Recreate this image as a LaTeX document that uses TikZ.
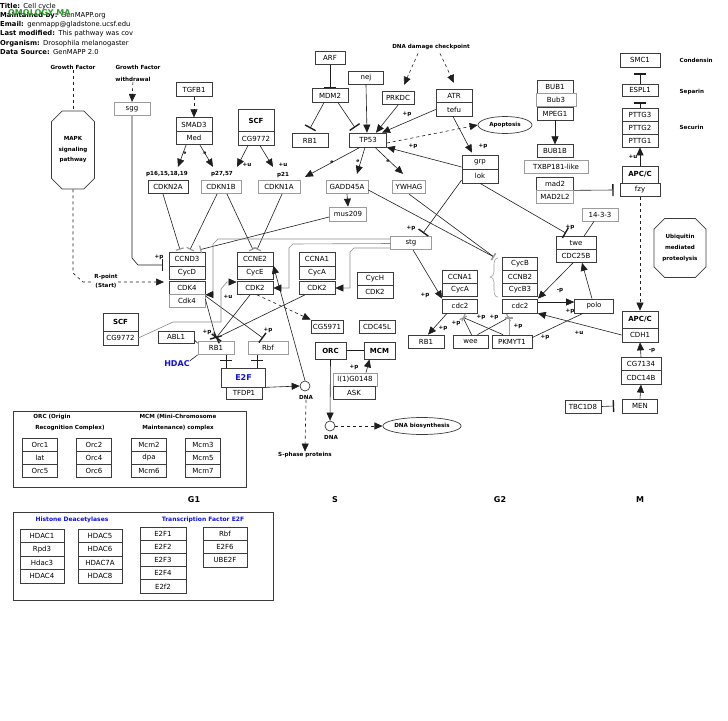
\documentclass[tikz,border=0pt]{standalone}
\usepackage{fontspec}
\setmainfont{DejaVu Sans}
\usetikzlibrary{arrows.meta,shapes.geometric,shapes.misc}
\definecolor{boxline}{HTML}{3C3C3C}
\definecolor{boxlight}{HTML}{9C9C9C}
\definecolor{wireline}{HTML}{1E1E1E}
\definecolor{wiregray}{HTML}{8A8A8A}
\definecolor{labelblue}{HTML}{1010E8}
\definecolor{homgreen}{HTML}{2E9A2E}
\newcommand{\genefont}{\fontsize{7}{8}\selectfont}
\newcommand{\tagfont}{\fontsize{5.6}{6.5}\selectfont\bfseries}
\tikzset{
  gene/.style={draw=boxline, fill=white, line width=0.7pt, minimum width=36pt,
               minimum height=13.5pt, inner sep=0pt, font=\genefont},
  genelt/.style={gene, draw=boxlight},
  cplx/.style={gene, minimum height=17pt, font=\genefont\bfseries},
  tag/.style={font=\tagfont, inner sep=0.5pt},
  etag/.style={font=\fontsize{4.5}{5}\selectfont\bfseries, inner sep=0pt},
  hdr/.style={font=\fontsize{6.8}{7.5}\selectfont, anchor=west, inner sep=0pt},
  phase/.style={font=\fontsize{8}{9}\selectfont\bfseries},
  bluetag/.style={tag, font=\fontsize{6}{7}\selectfont\bfseries, text=labelblue},
  pathbox/.style={chamfered rectangle, chamfered rectangle xsep=7pt, draw=boxline,
                  line width=0.7pt, fill=white, font=\tagfont, align=center, inner sep=0pt},
  dnadot/.style={circle, draw=boxline, line width=0.7pt, minimum size=10pt, inner sep=0pt},
  oval/.style={ellipse, draw=boxline, line width=0.7pt, inner sep=0pt, font=\tagfont},
  wire/.style={line width=0.6pt, draw=wireline},
  act/.style={wire, -{Triangle[length=8pt,width=7pt,color=wireline]}},
  inh/.style={wire, -{Bar[width=12pt,line width=1.4pt]}},
  inhsoft/.style={wire, -{Bar[width=8pt,line width=1.2pt,color=boxlight]}},
}

\begin{document}
\begin{tikzpicture}[x=1pt, y=-1pt]
    \useasboundingbox (0,0) rectangle (728,720);
    % header
    \node[hdr] (ttl) at (0,7) {\textbf{Title:}\enspace Cell cycle};
    \node[hdr] (mnt) at (0,16) {\textbf{Maintained by:}\enspace GenMAPP.org};
    \node[hdr, text=homgreen, font=\fontsize{8}{9}\selectfont\bfseries] (hom) at (8,13) {OMOLOGY MA};
    \node[hdr] (eml) at (0,25) {\textbf{Email:}\enspace genmapp@gladstone.ucsf.edu};
    \node[hdr] (lmd) at (0,34) {\textbf{Last modified:}\enspace This pathway was cov};
    \node[hdr] (org) at (0,44) {\textbf{Organism:}\enspace Drosophila melanogaster};
    \node[hdr] (src) at (0,52) {\textbf{Data Source:}\enspace GenMAPP 2.0};

    % G1 entry
    \node[tag] (gfa) at (73,67) {Growth Factor};
    \node[tag] (gfb) at (138,67) {Growth Factor};
    \node[tag] (gfw) at (133,79) {withdrawal};
    \node[pathbox, minimum width=40pt, minimum height=78pt] (mapk) at (73,150) {MAPK\\[4pt]signaling\\[4pt]pathway};
    \node[genelt] (sgg) at (132,109) {sgg};
    \node[gene] (tgfb1) at (194,89.5) {TGFB1};
    \node[gene] (smad3) at (194,124.5) {SMAD3};
    \node[gene] (med) at (194,138) {Med};
    \node[cplx, minimum height=23pt] (scfa) at (256,120.5) {SCF};
    \node[gene] (cg9772a) at (256,138.5) {CG9772};
    \node[tag] (lp16) at (167,174) {p16,15,18,19};
    \node[tag] (lp27) at (222,174) {p27,57};
    \node[tag] (lp21) at (283,175) {p21};
    \node[gene, minimum width=40pt] (cdkn2a) at (168,187) {CDKN2A};
    \node[genelt, minimum width=40pt] (cdkn1b) at (221,187) {CDKN1B};
    \node[genelt, minimum width=42pt] (cdkn1a) at (279,187) {CDKN1A};

    % p53 branch
    \node[gene, minimum width=30pt] (arf) at (330,58) {ARF};
    \node[gene] (mdm2) at (330,95.5) {MDM2};
    \node[gene] (rb1a) at (310,140.5) {RB1};
    \node[gene, minimum width=35pt] (nej) at (366,78) {nej};
    \node[gene, minimum width=37pt, minimum height=14pt] (tp53) at (368,140) {TP53};
    \node[gene, minimum width=32pt] (prkdc) at (398,98) {PRKDC};
    \node[tag] (dmg) at (431,47) {DNA damage checkpoint};
    \node[gene] (atr) at (454,96) {ATR};
    \node[gene] (tefu) at (454,109.5) {tefu};
    \node[oval, minimum width=54pt, minimum height=17pt] (apop) at (505,125) {Apoptosis};
    \node[gene, minimum height=14pt] (grp) at (480,162) {grp};
    \node[gene, minimum height=14pt] (lok) at (480,176) {lok};
    \node[genelt, minimum width=42pt] (gadd45a) at (347,187) {GADD45A};
    \node[genelt, minimum width=33pt] (ywhag) at (409,187) {YWHAG};
    \node[genelt, minimum width=37pt, minimum height=14pt] (mus209) at (348,214) {mus209};

    % M checkpoint
    \node[gene, minimum width=40pt, minimum height=14pt] (smc1) at (640,60) {SMC1};
    \node[gene, minimum height=12pt] (espl1) at (640,90) {ESPL1};
    \node[gene, minimum height=13pt] (pttg3) at (640,114.5) {PTTG3};
    \node[gene, minimum height=13pt] (pttg2) at (640,127.5) {PTTG2};
    \node[gene, minimum height=13pt] (pttg1) at (640,140.5) {PTTG1};
    \node[cplx] (apca) at (640,174.5) {APC/C};
    \node[gene, minimum width=40pt] (fzy) at (640,190) {fzy};
    \node[tag, anchor=west] (cond) at (679,60) {Condensin};
    \node[tag, anchor=west] (sepn) at (679,92) {Separin};
    \node[tag, anchor=west] (secn) at (679,127) {Securin};
    \node[gene, minimum height=12.5pt] (bub1) at (555,87) {BUB1};
    \node[genelt, minimum width=40pt, minimum height=13pt] (bub3) at (556,100) {Bub3};
    \node[gene, minimum height=13pt] (mpeg1) at (555,113.5) {MPEG1};
    \node[gene, minimum height=12.5pt] (bub1b) at (555,151) {BUB1B};
    \node[genelt, minimum width=64pt, minimum height=12.5pt] (txbp) at (556,167) {TXBP181-like};
    \node[gene, minimum width=37pt, minimum height=13pt] (mad2) at (555,183.5) {mad2};
    \node[genelt, minimum width=37pt, minimum height=13pt] (mad2l2) at (555,196.5) {MAD2L2};
    \node[pathbox, minimum width=52pt, minimum height=59pt] (ubq) at (680,248) {Ubiquitin\\[4.5pt]mediated\\[4.5pt]proteolysis};

    % G2/M
    \node[genelt, minimum height=13pt] (p1433) at (600,214.5) {14-3-3};
    \node[gene, minimum width=40pt, minimum height=13pt] (twe) at (576,243) {twe};
    \node[gene, minimum width=40pt, minimum height=13pt] (cdc25b) at (576,256) {CDC25B};
    \node[genelt, minimum width=41pt, minimum height=13pt] (stg) at (411,243) {stg};
    \node[gene, minimum width=35pt, minimum height=13pt] (cycb) at (520,263.5) {CycB};
    \node[gene, minimum width=35pt, minimum height=13pt] (ccnb2) at (520,276.5) {CCNB2};
    \node[gene, minimum width=35pt, minimum height=13pt] (cycb3) at (520,289.5) {CycB3};
    \node[gene, minimum width=35pt, minimum height=14pt] (cdc2b) at (520,306) {cdc2};
    \node[gene, minimum width=35pt, minimum height=13pt] (ccna1b) at (460,276.5) {CCNA1};
    \node[gene, minimum width=35pt, minimum height=13pt] (cycab) at (460,289.5) {CycA};
    \node[gene, minimum width=35pt, minimum height=14pt] (cdc2a) at (460,306) {cdc2};
    \node[gene, minimum width=39pt, minimum height=14pt] (polo) at (594,306) {polo};
    \node[gene, minimum height=13pt] (rb1c) at (426,341.5) {RB1};
    \node[gene, minimum width=35pt, minimum height=13pt] (wee) at (470.5,341.5) {wee};
    \node[gene, minimum width=40pt, minimum height=13pt] (pkmyt1) at (512,341.5) {PKMYT1};
    \node[cplx] (apcb) at (640,319.5) {APC/C};
    \node[gene, minimum height=14pt] (cdh1) at (640,335) {CDH1};
    \node[gene, minimum width=40pt] (cg7134) at (641,364) {CG7134};
    \node[gene, minimum width=40pt] (cdc14b) at (641,377.5) {CDC14B};
    \node[gene, minimum height=13pt] (tbc1d8) at (583,406.5) {TBC1D8};
    \node[gene, minimum width=35pt, minimum height=14pt] (men) at (640,406) {MEN};

    % G1/S cyclins
    \node[gene, minimum height=14pt] (ccnd3) at (187,259) {CCND3};
    \node[gene, minimum height=13pt] (cycd) at (187,272.5) {CycD};
    \node[gene, minimum height=13pt] (cdk4) at (187,288) {CDK4};
    \node[genelt, minimum height=13pt] (cdk4b) at (187,301) {Cdk4};
    \node[gene, minimum height=14pt] (ccne2) at (255,259) {CCNE2};
    \node[gene, minimum height=13pt] (cyce) at (255,272.5) {CycE};
    \node[gene, minimum height=13pt] (cdk2a) at (255,288) {CDK2};
    \node[gene, minimum height=14pt] (ccna1a) at (317,259) {CCNA1};
    \node[gene, minimum height=13pt] (cycaa) at (317,272.5) {CycA};
    \node[gene, minimum height=13pt] (cdk2b) at (317,288) {CDK2};
    \node[gene, minimum height=13pt] (cych) at (375,279) {CycH};
    \node[gene, minimum height=13pt] (cdk2c) at (375,292) {CDK2};

    % E2F and replication
    \node[cplx, minimum width=35pt, minimum height=18pt] (scfb) at (120.5,322) {SCF};
    \node[gene, minimum width=35pt, minimum height=14pt] (cg9772b) at (120.5,338) {CG9772};
    \node[gene, minimum height=12pt] (abl1) at (176,337) {ABL1};
    \node[font=\fontsize{8}{9}\selectfont\bfseries, text=labelblue, inner sep=0pt] (hdac) at (177,364) {HDAC};
    \node[genelt, minimum height=13pt] (rb1b) at (216,348) {RB1};
    \node[genelt, minimum width=40pt, minimum height=13pt] (rbf) at (268,348) {Rbf};
    \node[gene, minimum width=44pt, minimum height=19pt, font=\fontsize{8}{9}\selectfont\bfseries, text=labelblue] (e2f) at (243.5,377.5) {E2F};
    \node[gene, minimum height=12pt] (tfdp1) at (244,393) {TFDP1};
    \node[dnadot] (dnaa) at (305,386) {};
    \node[tag] (dnaal) at (306,397) {DNA};
    \node[tag] (sphase) at (305,455) {S-phase proteins};
    \node[gene, minimum width=32pt, minimum height=13pt] (cg5971) at (327,326.5) {CG5971};
    \node[cplx, minimum width=31pt] (orc) at (330.5,350.5) {ORC};
    \node[gene, minimum height=13pt] (cdc45l) at (377,326.5) {CDC45L};
    \node[cplx, minimum width=31pt] (mcm) at (379.5,350.5) {MCM};
    \node[genelt, minimum width=44pt, minimum height=13pt] (l1g) at (355,379.5) {l(1)G0148};
    \node[gene, minimum width=42pt, minimum height=13pt] (ask) at (354,392.5) {ASK};
    \node[dnadot] (dnab) at (330,426) {};
    \node[tag] (dnabl) at (331,437) {DNA};
    \node[oval, minimum width=76pt, minimum height=17pt] (dnabio) at (422,426) {DNA biosynthesis};

    % phases
    \node[phase] (phg1) at (194,500) {G1};
    \node[phase] (phs) at (335,500) {S};
    \node[phase] (phg2) at (500,500) {G2};
    \node[phase] (phm) at (640,500) {M};

    % small labels
    \node[tag] (lsgg) at (159,257) {+p};
    \node[etag] (le1) at (185,153) {e};
    \node[etag] (le2) at (205,153) {e};
    \node[tag] (lu1) at (247,165) {+u};
    \node[tag] (lu2) at (283,165) {+u};
    \node[etag] (le3) at (332,162) {e};
    \node[etag] (le4) at (358,161) {e};
    \node[etag] (le5) at (388,161) {e};
    \node[tag] (ltefu) at (407,114) {+p};
    \node[tag] (lgrp) at (483,146) {+p};
    \node[tag] (ltp) at (413,146) {+p};
    \node[tag] (lstg) at (411,228) {+p};
    \node[tag] (ltwe) at (570,227) {+p};
    \node[tag] (lstgc) at (425,295) {+p};
    \node[tag] (lcdcrb) at (443,328) {+p};
    \node[tag] (lwa) at (456,323) {+p};
    \node[tag] (lwb) at (481,317) {+p};
    \node[tag] (lwc) at (494,317) {+p};
    \node[tag] (lwd) at (518,326) {+p};
    \node[tag] (lcdc25) at (560,291) {-p};
    \node[tag] (lpolo) at (570,311) {+p};
    \node[tag] (lpk) at (545,337) {+p};
    \node[tag] (lcdh) at (579,333) {+u};
    \node[tag] (lcg71) at (652,351) {-p};
    \node[tag] (lapc) at (633,157) {+u};
    \node[tag] (lcdk) at (228,297) {+u};
    \node[tag] (lrba) at (207,332) {+p};
    \node[tag] (lrbb) at (268,330) {+p};
    \node[tag] (ll1g) at (354,367) {+p};

    % connectors, G1
    \coordinate (rpt) at (164,282);
    \coordinate (sggend) at (163,265);
    \draw[wire, dashed] (gfa) -- (mapk);
    \draw[act, dashed] (mapk.south) -- (73,273) -- (83,282) -- (rpt);
    \node[tag, fill=white, align=center] (rplb) at (106,281.5) {R-point\\[2.5pt](Start)};
    \draw[act, dashed] (gfw) -- (sgg.north);
    \draw[inh] (sgg.south) -- (132,258) -- (138,265) -- (sggend);
    \draw[act, dashed] (tgfb1.south) -- (smad3.north);
    \draw[act] ([xshift=-8pt]med.south) -- ([xshift=10pt,yshift=13pt]cdkn2a.north);
    \draw[act] ([xshift=6pt]med.south) -- ([xshift=-8pt,yshift=13pt]cdkn1b.north);
    \draw[act] ([xshift=-8pt]cg9772a.south) -- ([xshift=16pt,yshift=13pt]cdkn1b.north);
    \draw[act] ([xshift=4pt]cg9772a.south) -- ([xshift=-6pt,yshift=13pt]cdkn1a.north);
    \draw[inhsoft] ([xshift=-5pt]cdkn2a.south) -- ([xshift=-7pt,yshift=2pt]ccnd3.north);
    \draw[inhsoft] ([xshift=-4pt]cdkn1b.south) -- ([xshift=3pt,yshift=2pt]ccnd3.north);
    \draw[inhsoft] ([yshift=-3pt]mus209.west) -- ([xshift=13pt,yshift=2pt]ccnd3.north);
    \draw[inhsoft] ([xshift=6pt]cdkn1b.south) -- ([xshift=-2pt,yshift=2pt]ccne2.north);
    \draw[inhsoft] ([xshift=3pt]cdkn1a.south) -- ([xshift=2pt,yshift=2pt]ccne2.north);

    % p53
    \draw[inh] (arf.south) -- (mdm2.north);
    \draw[inh] ([xshift=-6pt]mdm2.south) -- ([yshift=5pt]rb1a.north);
    \draw[inh] ([xshift=8pt]mdm2.south) -- ([xshift=-13pt,yshift=5pt]tp53.north);
    \draw[act] (nej.south) -- ([xshift=-1pt]tp53.north);
    \draw[act] (prkdc.south) -- ([xshift=8pt]tp53.north);
    \draw[act] (tefu.west) -- ([xshift=14pt]tp53.north);
    \draw[act, dashed] ([xshift=-13pt,yshift=-3pt]dmg.south) -- ([xshift=6pt,yshift=6pt]prkdc.north);
    \draw[act, dashed] ([xshift=9pt,yshift=-3pt]dmg.south) -- ([yshift=6pt]atr.north);
    \draw[act, dashed] ([yshift=-3pt]tp53.east) -- (apop.west);
    \draw[act] ([xshift=-1pt]tefu.south) -- ([xshift=-8pt,yshift=2pt]grp.north);
    \draw[act] ([yshift=-5pt]grp.west) -- (tp53.south east);
    \draw[act] ([xshift=-8pt]tp53.south) -- ([xshift=26pt,yshift=3pt]cdkn1a.north);
    \draw[act] ([xshift=-3pt]tp53.south) -- ([xshift=10pt,yshift=6pt]gadd45a.north);
    \draw[act] ([xshift=7pt]tp53.south) -- ([xshift=-6pt,yshift=6pt]ywhag.north);
    \draw[act] (gadd45a.south) -- (mus209.north);

    % stg and cdc2
    \draw[act, draw=wiregray] ([yshift=4pt]stg.west) -- (218,239) -- (213,244) -- (213,294.5) -- (cdk4.south east);
    \draw[act, draw=wiregray] ([yshift=-0.5pt]stg.west) -- (293,244) -- (289,248) -- (289,288) -- (cdk2a.east);
    \draw[act, draw=wiregray] ([yshift=-5pt]stg.west) -- (354,248) -- (350,252) -- (350,288) -- (cdk2b.east);
    \draw[act] ([xshift=2pt]stg.south) -- (cdc2a.north west);
    \draw[inh] ([yshift=-4pt]lok.west) -- ([xshift=12pt,yshift=3pt]stg.north);
    \draw[inh] (lok.south) -- ([xshift=-10pt,yshift=3pt]twe.north);
    \draw[wire] ([xshift=-6pt]p1433.south) -- ([xshift=8pt]twe.north);
    \draw[act] ([xshift=-2pt]polo.north) -- ([xshift=6pt]cdc25b.south);
    \draw[act] ([xshift=-3pt]cdc25b.south) -- (cdc2b.north east);
    \draw[act] ([yshift=4pt]cdc2b.east) -- ([yshift=4pt]polo.west);
    \draw[wire] ([xshift=-11pt]polo.south) -- ([yshift=4pt]pkmyt1.east);
    \draw[act] (cdh1.west) -- (cdc2b.south east);
    \draw[act] ([xshift=-13pt]cdc2a.south) -- ([xshift=2pt]rb1c.north);
    \draw[inhsoft] ([xshift=1pt]wee.north) -- ([xshift=3pt,yshift=-4pt]cdc2a.south);
    \draw[inhsoft] ([xshift=7pt]wee.north) -- ([xshift=-11pt,yshift=-4pt]cdc2b.south);
    \draw[inhsoft] ([xshift=-9pt]pkmyt1.north) -- ([xshift=3pt,yshift=-4pt]cdc2a.south);
    \draw[inhsoft, draw=boxlight] ([xshift=-3pt]pkmyt1.north) -- ([xshift=-11pt,yshift=-4pt]cdc2b.south);
    \coordinate (cycbrace) at (494,257);
    \draw[inhsoft] ([yshift=-3pt]gadd45a.east) -- (cycbrace);
    \draw[inhsoft] (ywhag.south) -- (cycbrace);
    \draw[draw=boxlight, line width=0.6pt] (498,258) .. controls (495,258) and (494,261) .. (494,265) -- (494,272)
        .. controls (494,275) and (492,277) .. (490,277) .. controls (492,277) and (494,279) .. (494,282)
        -- (494,290) .. controls (494,294) and (495,297) .. (498,297);

    % M
    \draw[act] (cg7134.north) -- (cdh1.south);
    \draw[act] (men.north) -- (cdc14b.south);
    \draw[inh] (tbc1d8.east) -- ([xshift=-8pt]men.west);
    \draw[inh] (mad2.south east) -- ([xshift=-6pt]fzy.west);
    \draw[act, dashed] (fzy.south) -- (apcb.north);
    \draw[act] (apca.north) -- (pttg1.south);
    \draw[inh] (pttg3.north) -- ([yshift=-6pt]espl1.south);
    \draw[inh] (espl1.north) -- ([yshift=-6pt]smc1.south);
    \draw[act] (mpeg1.south) -- (bub1b.north);

    % Rb / E2F
    \draw[inh] ([yshift=2pt]cdk4b.east) -- ([yshift=3pt]rb1b.north);
    \draw[inh] ([yshift=-1pt]cdk4.south east) -- ([xshift=-5pt,yshift=3pt]rbf.north);
    \draw[inh] ([xshift=-5pt]cdk2a.south) -- ([yshift=3pt]rb1b.north);
    \draw[inh] ([xshift=-12pt]cdk2b.south) -- ([yshift=3pt]rb1b.north);
    \draw[act, draw=wiregray] (cg9772b.east) -- (173,322) -- (221,322) -- (221,289) -- (227,282) -- ([yshift=6pt]cdk2a.west);
    \draw[act, dashed] ([xshift=2pt]cdk2a.south) -- (cg5971.north west);
    \draw[act] (dnaa.north) -- (cyce.north east);
    \draw[act] (e2f.south east) -- (dnaa.west);
    \draw[act, dashed] (dnaal.south) -- (sphase.north);
    \draw[inh] ([xshift=10pt]rb1b.south) -- ([xshift=-17.5pt,yshift=6.5pt]e2f.north);
    \draw[wire] ([xshift=-17.5pt,yshift=6.5pt]e2f.north) -- ([xshift=-17.5pt]e2f.north);
    \draw[inh] ([xshift=-11pt]rbf.south) -- ([xshift=13.5pt,yshift=6.5pt]e2f.north);
    \draw[wire] ([xshift=13.5pt,yshift=6.5pt]e2f.north) -- ([xshift=13.5pt]e2f.north);
    \draw[wire] ([yshift=-3pt]abl1.east) -- ([yshift=-2pt]rb1b.north west);
    \draw[wire] (hdac.north east) -- (rb1b.south west);
    \draw[wire] (orc.east) -- (mcm.west);
    \draw[act] (orc.south) -- (dnab.north);
    \draw[act] ([xshift=11pt]l1g.north) -- ([xshift=-10pt]mcm.south);
    \draw[act, dashed] (dnab.east) -- (dnabio.west);

    % legend: ORC / MCM
    \draw[draw=boxline, line width=0.7pt] (13,411) rectangle (246,487);
    \node[tag] (orct1) at (52,417) {ORC (Origin};
    \node[tag] (orct2) at (70,428) {Recognition Complex)};
    \node[tag] (mcmt1) at (178,417) {MCM (Mini-Chromosome};
    \node[tag] (mcmt2) at (178,428) {Maintenance) complex};
    \node[gene, minimum width=35pt, minimum height=13pt] (orc1) at (40,444.5) {Orc1};
    \node[gene, minimum width=35pt, minimum height=13pt] (lat) at (40,457.5) {lat};
    \node[gene, minimum width=35pt, minimum height=13pt] (orc5) at (40,470.5) {Orc5};
    \node[gene, minimum width=35pt, minimum height=13pt] (orc2) at (94,444.5) {Orc2};
    \node[gene, minimum width=35pt, minimum height=13pt] (orc4) at (94,457.5) {Orc4};
    \node[gene, minimum width=35pt, minimum height=13pt] (orc6) at (94,470.5) {Orc6};
    \node[gene, minimum width=35pt, minimum height=13pt] (mcm2) at (149,444.5) {Mcm2};
    \node[gene, minimum width=35pt, minimum height=13pt] (dpa) at (149,457.5) {dpa};
    \node[gene, minimum width=35pt, minimum height=13pt] (mcm6) at (149,470.5) {Mcm6};
    \node[gene, minimum width=35pt, minimum height=13pt] (mcm3) at (203,444.5) {Mcm3};
    \node[gene, minimum width=35pt, minimum height=13pt] (mcm5) at (203,457.5) {Mcm5};
    \node[gene, minimum width=35pt, minimum height=13pt] (mcm7) at (203,470.5) {Mcm7};

    % legend: HDAC / E2F
    \draw[draw=boxline, line width=0.7pt] (13,512) rectangle (273,600);
    \node[bluetag] (hdact) at (72,520) {Histone Deacetylases};
    \node[bluetag] (e2ft) at (203,520) {Transcription Factor E2F};
    \node[gene, minimum width=44pt] (hdac1) at (42,535.75) {HDAC1};
    \node[gene, minimum width=44pt] (rpd3) at (42,549.25) {Rpd3};
    \node[gene, minimum width=44pt] (hdac3) at (42,562.75) {Hdac3};
    \node[gene, minimum width=44pt] (hdac4) at (42,576.25) {HDAC4};
    \node[gene, minimum width=44pt] (hdac5) at (100,535.75) {HDAC5};
    \node[gene, minimum width=44pt] (hdac6) at (100,549.25) {HDAC6};
    \node[gene, minimum width=44pt] (hdac7a) at (100,562.75) {HDAC7A};
    \node[gene, minimum width=44pt] (hdac8) at (100,576.25) {HDAC8};
    \node[gene, minimum width=46pt, minimum height=13.2pt] (e2f1) at (163,533.6) {E2F1};
    \node[gene, minimum width=46pt, minimum height=13.2pt] (e2f2) at (163,546.8) {E2F2};
    \node[gene, minimum width=46pt, minimum height=13.2pt] (e2f3) at (163,560) {E2F3};
    \node[gene, minimum width=46pt, minimum height=13.2pt] (e2f4) at (163,573.2) {E2F4};
    \node[gene, minimum width=46pt, minimum height=13.2pt] (e2f2b) at (163,586.4) {E2f2};
    \node[gene, minimum width=44pt, minimum height=13.3pt] (rbfl) at (225,533.7) {Rbf};
    \node[gene, minimum width=44pt, minimum height=13.3pt] (e2f6) at (225,547) {E2F6};
    \node[gene, minimum width=44pt, minimum height=13.3pt] (ube2f) at (225,560.3) {UBE2F};
\end{tikzpicture}
\end{document}
